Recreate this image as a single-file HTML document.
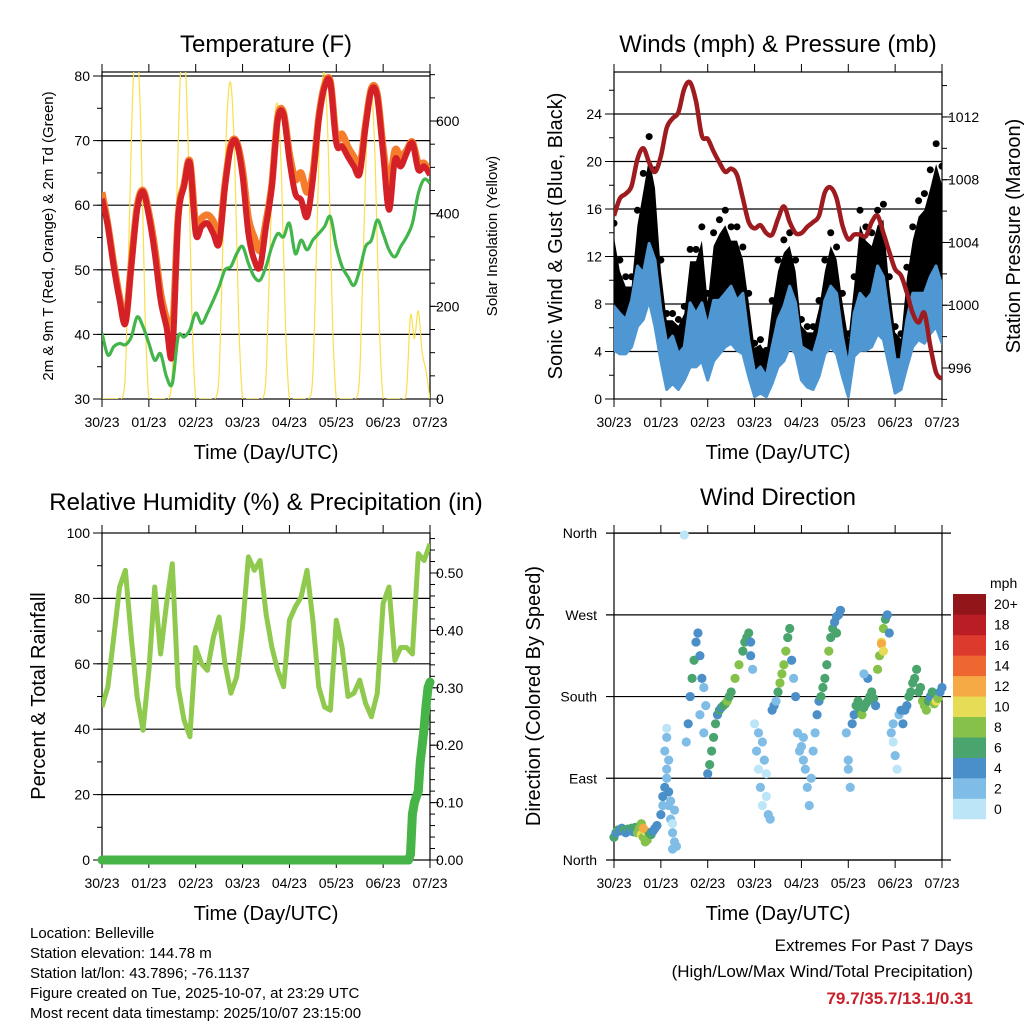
<!DOCTYPE html>
<html><head><meta charset="utf-8">
<style>
html,body{margin:0;padding:0;background:#fff;}
svg{display:block;font-family:"Liberation Sans",Arial,sans-serif;}
</style></head>
<body>
<svg id="root" width="1024" height="1024" viewBox="0 0 1024 1024" xmlns="http://www.w3.org/2000/svg">
<defs>
<clipPath id="c1"><rect x="102" y="72" width="328" height="327"/></clipPath>
<clipPath id="c2"><rect x="614" y="72" width="328" height="327"/></clipPath>
<clipPath id="c3"><rect x="102" y="533" width="328" height="327"/></clipPath>
</defs>
<g id="g"></g>
<g font-size="15" fill="#000">
<text x="30" y="938">Location: Belleville</text>
<text x="30" y="958">Station elevation: 144.78 m</text>
<text x="30" y="978">Station lat/lon: 43.7896; -76.1137</text>
<text x="30" y="998">Figure created on Tue, 2025-10-07, at 23:29 UTC</text>
<text x="30" y="1018">Most recent data timestamp: 2025/10/07 23:15:00</text>
</g>
<g text-anchor="end">
<text x="973" y="951" font-size="17">Extremes For Past 7 Days</text>
<text x="973" y="977" font-size="17">(High/Low/Max Wind/Total Precipitation)</text>
<text x="973" y="1004" font-size="17" font-weight="bold" fill="#c8202a">79.7/35.7/13.1/0.31</text>
</g>
</svg>
<script>
// ---- data (3-hourly, t = 0..168 hours) ----
const hours3 = [0,3,6,9,12,15,18,21,24,27,30,33,36,39,42,45,48,51,54,57,60,63,66,69,72,75,78,81,84,87,90,93,96,99,102,105,108,111,114,117,120,123,126,129,132,135,138,141,144,147,150,153,156,159,162,165,168];
const dayLabels = ["30/23","01/23","02/23","03/23","04/23","05/23","06/23","07/23"];
const tempRed = [61,56.7,50.5,45.3,41.7,50.5,59.3,62.1,58.3,52.6,45.3,41.2,37,57.7,62.9,66.5,55.6,56.7,57.2,55.6,54.1,62.9,69.1,69.6,64.5,55.6,51.5,50.5,56.7,62.9,73.2,74,67,61.8,60.8,58.2,64,73.2,78.3,78.9,69.6,69.1,67.5,66,64.9,72.2,77.8,76.8,68,59.3,67,66,68,69.6,65.5,66,64.7];
const tempOrange = [62,57,51,45.8,42,51,59.8,62.3,58.8,53.5,46.5,42.5,40,58.2,63.2,66.8,57,58,58.5,57.5,55,63.3,69.4,69.8,65.5,58,55,53,57.5,63.3,73.6,74.3,68,64,65,62,65,73.6,78.6,79.1,70.5,71,69,67.5,66,72.6,78.1,77.2,69,63,68.5,67.5,68.5,69.8,66.5,66.5,65];
const dewPoint = [40.2,36.8,38.1,38.6,38.4,39.6,42.7,41.2,38.6,36,37,33.5,32.4,39.6,39.6,40.7,43.3,41.7,43.3,45.3,47.4,50,50.5,52.5,53.6,51,48.9,48.4,50.5,53.6,55.6,55.1,57.2,52.5,54.6,53.1,54.6,55.6,56.7,58.2,53.6,50.5,48.9,47.6,50,53.6,54.6,57.7,55.6,53.1,52,53.6,55.1,57.2,61.8,64,63.4];
const solarHours = [0,2,4,6,8,10,12,14,16,18,20,22,24,26,28,30,32,34,36,38,40,42,44,46,48,50,52,54,56,58,60,62,64,66,68,70,72,74,76,78,80,82,84,86,88,90,92,94,96,98,100,102,104,106,108,110,112,114,116,118,120,122,124,126,128,130,132,134,136,138,140,142,144,146,148,150,152,154,156,158,160,162,164,166,168];
const solar = [0,0,0,0,0,0,60,380,685,760,570,190, 0,0,0,0,0,0,60,380,685,760,570,190, 0,0,0,0,0,0,55,340,610,680,510,170, 0,0,0,0,0,0,50,317,570,634,475,158, 0,0,0,0,0,0,56,350,630,700,525,175, 0,0,0,0,0,0,54,335,604,671,503,168, 0,0,0,0,0,0,20,180,130,190,100,60, 0];
const pressure = [1005.7,1006.8,1007.1,1007.6,1009.3,1010,1009.1,1008.5,1009.5,1011.3,1011.9,1012.3,1013.8,1014.2,1013,1010.8,1010.6,1009.8,1009.1,1008.5,1008.7,1008.3,1006.8,1005.3,1004.9,1005.1,1004.6,1004.5,1005.5,1006.3,1005.3,1004.6,1004.6,1005,1005.3,1005.7,1007.2,1007.5,1006.8,1005.1,1004.2,1004.5,1004.5,1004.4,1005.3,1005.7,1004.6,1003.4,1002.3,1001.9,1000.8,999.5,998.9,999.5,997.4,995.7,995.3];
const gustMax = [14.8,11.7,10.3,10.3,15.9,19,22.1,19.3,11.7,7.2,7.2,6.7,7.8,12.6,12.6,14.5,8.9,14,15.1,15.9,14.5,14.5,12.8,8.9,4.7,5,4.1,8.3,11.7,13.4,14,11.7,6.7,6.1,6.1,8.3,11.7,14,12.8,8.9,5.5,10.3,15.9,14.5,14,15.9,16.4,10.3,6.1,5.5,11.1,14.5,16.7,17.3,19.3,21.5,19.6];
const windMax = [7.8,7.2,6.7,8.3,11.2,10.6,13.1,11.7,7.5,4.7,5.3,3.8,4.4,8.1,7.2,8.1,6.1,8.3,8.3,8.9,9.5,8.3,8.9,5,2.2,2.7,1.9,4.4,6.7,7.8,9.5,8.1,4.4,4.1,3.8,5.5,8.3,9.5,8.9,5.3,2.7,7.2,8.9,8.3,8.9,11.2,10.3,6.7,3.3,3.3,6.7,8.9,8.9,8.9,10.3,11.2,9.5];
const windMin = [4.1,3.8,3.8,4.4,6.1,6.7,8.3,6.1,3.2,0.8,1.3,0.8,1.6,2.7,2.7,3.2,1.6,3.2,3.8,4.4,4.7,4.1,3.8,1.9,0.2,0.5,0.2,1.3,2.7,3.2,4.4,3.8,1.6,1,0.8,1.9,3.8,4.4,3.8,1.9,0.2,3.6,4.1,4.1,4.4,5.5,5,2.7,0.5,0.8,2.7,4.4,5,4.7,5.5,6.1,4.7];
const rh = [46.8,53,68,83.5,88.6,68,50,39.7,58,83.5,63,78,90.6,53,42.8,37.7,65,60,58,68,74.3,60,51,56,71.3,92.7,88.6,91.6,75.4,65,58,53,73.3,77.4,80.4,88.6,73.3,53,46.8,45.8,73.3,65,50,51,55,47.9,43.8,51,78.4,83.5,61,65,65,63,93.7,91.6,96.7];
const precipHours = [0,40,80,120,157,158,159,160,161,162,163,164,165,166,167,168];
const precip = [0,0,0,0,0,0.01,0.08,0.1,0.11,0.12,0.17,0.2,0.23,0.27,0.3,0.31];
const dirHours = [0,1,2,3,4,5,6,7,8,9,10,11,12,13,14,15,16,17,18,19,14,16,15,20,21,22,24,25,25,26,27,27,28,28,29,26,27,27,28,29,30,31,32,30,31,30,36,37,38,39,40,41,42,43,44,45,46,47,46,44,48,49,50,51,52,53,54,55,56,57,58,59,60,62,64,66,67,68,69,70,70,71,72,73,74,75,76,76,77,78,79,80,74,78,81,82,83,84,85,86,87,88,89,90,91,92,93,94,95,96,97,98,99,100,97,101,102,103,104,105,106,107,108,109,110,111,112,113,114,115,116,114,119,120,120,121,122,123,124,125,126,127,128,129,130,131,132,133,134,130,128,135,136,137,138,139,137,140,141,138,142,143,144,145,143,146,147,148,149,150,151,152,153,154,155,156,157,158,159,160,161,162,163,164,165,166,167,168];
const dirDeg = [25,30,33,32,35,33,30,34,32,35,31,36,30,35,28,25,32,22,30,28,40,20,35,32,35,38,50,60,70,80,90,100,110,75,65,120,135,145,60,45,30,20,15,40,55,12,358,130,150,180,200,220,240,250,225,200,190,170,140,160,95,105,120,135,150,160,165,168,170,172,175,180,185,200,215,230,240,245,250,240,225,210,150,120,100,80,60,130,110,70,50,45,140,95,165,170,175,185,195,205,215,230,245,255,220,200,180,140,120,125,110,100,80,60,135,90,120,140,160,175,180,190,200,215,230,245,255,262,268,270,275,250,140,110,100,80,150,160,170,175,165,160,168,172,175,180,185,178,170,200,205,210,225,240,255,265,238,270,250,230,140,130,115,100,150,160,165,150,165,170,180,185,195,200,210,185,190,175,170,165,175,180,185,172,175,178,185,190];
const dirSpeed = [6,5,6,5,4,6,5,6,5,6,5,6,8,9,10,9,11,8,7,6,9,9,12,5,5,4,4,3,4,4,3,2,3,4,3,2,2,1,2,2,2,2,2,1,2,2,1,3,4,5,6,6,5,4,5,4,3,2,2,3,5,6,7,7,6,5,6,5,6,7,8,7,7,8,8,7,6,6,6,5,4,3,1,2,1,2,1,2,2,1,2,2,2,1,4,4,3,6,8,8,9,8,7,7,4,3,4,2,2,3,2,2,2,2,3,2,2,3,4,5,6,7,7,7,8,7,6,4,4,4,4,6,2,2,2,2,4,4,6,6,7,8,6,7,6,6,7,6,5,4,3,8,9,10,9,7,12,5,4,10,2,1,2,1,3,3,4,4,5,5,6,6,6,6,6,7,7,8,8,8,6,5,6,9,10,8,5,4];
const speedLabels = ["0","2","4","6","8","10","12","14","16","18","20+"];
const speedColors = ["#bde5f8","#80bde6","#4a8fc8","#4aa46d","#86c24a","#e6dc56","#f6aa46","#ef6730","#dd3a2e","#bb1d25","#921619"];

// ---- helpers ----
const NS = "http://www.w3.org/2000/svg";
const G = document.getElementById('g');
function mk(tag, attrs, parent){ const e=document.createElementNS(NS,tag); for(const k in attrs) e.setAttribute(k,attrs[k]); (parent||G).appendChild(e); return e; }
function txt(s, attrs, parent){ const e=mk('text',attrs,parent); e.textContent=s; return e; }
function smooth(pts){ let d="M"+pts[0][0].toFixed(1)+","+pts[0][1].toFixed(1); for(let i=0;i<pts.length-1;i++){ const p0=pts[i-1]||pts[i],p1=pts[i],p2=pts[i+1],p3=pts[i+2]||p2; const c1=[p1[0]+(p2[0]-p0[0])/6,p1[1]+(p2[1]-p0[1])/6], c2=[p2[0]-(p3[0]-p1[0])/6,p2[1]-(p3[1]-p1[1])/6]; d+="C"+c1[0].toFixed(1)+","+c1[1].toFixed(1)+" "+c2[0].toFixed(1)+","+c2[1].toFixed(1)+" "+p2[0].toFixed(1)+","+p2[1].toFixed(1);} return d; }
function poly(pts){ return "M"+pts.map(p=>p[0].toFixed(1)+","+p[1].toFixed(1)).join("L"); }
const W=328, H=327;
function xs(x0){ return t=>x0+t*W/168; }

function frame(x0,y0,name,xTitle){
  const f=mk('g',{});
  
  
  mk('rect',{x:x0,y:y0,width:W,height:H,fill:'none',stroke:'#000','stroke-width':1.2},f);
  for(let d=0; d<=7; d++){
    const x=x0+d*W/7;
    mk('line',{x1:x,y1:y0+H,x2:x,y2:y0+H+8,stroke:'#000','stroke-width':1},f);
    mk('line',{x1:x,y1:y0,x2:x,y2:y0-8,stroke:'#000','stroke-width':1},f);
    const t=txt(dayLabels[d],{x:x,y:y0+H+28,'font-size':14,'text-anchor':'middle'},f);
    
    
  }
  const xt=txt(xTitle,{x:x0+W/2,y:y0+H+60,'font-size':20,'text-anchor':'middle'},f);
  
  
  return f;
}
function yTicks(f,x0,y0,side,vals,yfn,fmt,major,minorStep,minV,maxV){
  const xb = side==='l'?x0:x0+W, dir = side==='l'?-1:1;
  for(let v=minV; v<=maxV+1e-9; v+=minorStep){ const y=yfn(v); if(y<y0-0.5) continue; mk('line',{x1:xb,y1:y,x2:xb+dir*5,y2:y,stroke:'#000','stroke-width':1},f); }
  vals.forEach(v=>{ const y=yfn(v); mk('line',{x1:xb,y1:y,x2:xb+dir*9,y2:y,stroke:'#000','stroke-width':1},f);
    const t=txt(fmt(v),{x:xb+dir*(side==='l'?12:6),y:y+5,'font-size':14,'text-anchor':side==='l'?'end':'start'},f);
    
     });
}
function title(s,x,y,name){ const t=txt(s,{x:x,y:y,'font-size':24,'text-anchor':'middle'});   }
function vtitle(s,x,y,size,name){ const t=txt(s,{x:0,y:0,'font-size':size,'text-anchor':'middle',transform:`translate(${x},${y}) rotate(-90)`});   }

// ===== Panel 1: Temperature =====
(function(){
  const x0=102,y0=72, X=xs(x0);
  const yT=v=>399-(v-30)*6.46, yS=v=>399-v*0.4633;
  title("Temperature (F)",266,52,'temperature-title');
  const f=frame(x0,y0,'temperature',"Time (Day/UTC)");
  [40,50,60,70,80].forEach(v=>{ const l=mk('line',{x1:x0,y1:yT(v),x2:x0+W,y2:yT(v),stroke:'#000','stroke-width':1.2});   });
  const c=mk('g',{'clip-path':'url(#c1)'});
  
  
  const s=mk('path',{d:smooth(solarHours.map((t,i)=>[X(t),yS(solar[i])])),fill:'none',stroke:'#f9df4a','stroke-width':1.2},c);
  
  
  const o=mk('path',{d:smooth(hours3.map((t,i)=>[X(t),yT(tempOrange[i])])),fill:'none',stroke:'#f47c2b','stroke-width':7,'stroke-linejoin':'round'},c);
  
  
  const r=mk('path',{d:smooth(hours3.map((t,i)=>[X(t),yT(tempRed[i])])),fill:'none',stroke:'#d42027','stroke-width':6,'stroke-linejoin':'round'},c);
  
  
  const g=mk('path',{d:smooth(hours3.map((t,i)=>[X(t),yT(dewPoint[i])])),fill:'none',stroke:'#42b54b','stroke-width':3.2},c);
  
  
  yTicks(f,x0,y0,'l',[30,40,50,60,70,80],yT,v=>String(v),1,5,30,80);
  yTicks(f,x0,y0,'r',[0,200,400,600],yS,v=>String(v),1,50,0,700);
  vtitle("2m & 9m T (Red, Orange) & 2m Td (Green)",53,236,15,'temp-y-axis-title');
  vtitle("Solar Insolation (Yellow)",497,236,15,'solar-y-axis-title');
})();

// ===== Panel 2: Winds & Pressure =====
(function(){
  const x0=614,y0=72, X=xs(x0);
  const yW=v=>399-v*11.875, yP=p=>368-(p-996)*15.69;
  title("Winds (mph) & Pressure (mb)",778,52,'winds-title');
  const f=frame(x0,y0,'winds',"Time (Day/UTC)");
  [4,8,12,16,20,24].forEach(v=>{ const l=mk('line',{x1:x0,y1:yW(v),x2:x0+W,y2:yW(v),stroke:'#000','stroke-width':1.2});   });
  const c=mk('g',{'clip-path':'url(#c2)'});
  
  
  const up=hours3.map((t,i)=>[X(t),yW(gustMax[i]*0.92)]), lo=hours3.map((t,i)=>[X(t),yW(windMax[i])]).reverse();
  const gb=mk('path',{d:poly(up.concat(lo))+"Z",fill:'#000',stroke:'none'},c);
  
  
  hours3.forEach((t,i)=>{ const d=mk('circle',{cx:X(t),cy:yW(gustMax[i]),r:3.5,fill:'#000'},c);   });
  const wu=hours3.map((t,i)=>[X(t),yW(windMax[i])]), wl=hours3.map((t,i)=>[X(t),yW(windMin[i])]).reverse();
  const wb=mk('path',{d:poly(wu.concat(wl))+"Z",fill:'#4f97d2',stroke:'#4f97d2','stroke-width':3,'stroke-linejoin':'round'},c);
  
  
  const p=mk('path',{d:smooth(hours3.map((t,i)=>[X(t),yP(pressure[i])])),fill:'none',stroke:'#9e1b1f','stroke-width':4.5},c);
  
  
  yTicks(f,x0,y0,'l',[0,4,8,12,16,20,24],yW,v=>String(v),1,2,0,27);
  yTicks(f,x0,y0,'r',[996,1000,1004,1008,1012],yP,v=>String(v),1,2,994,1014);
  vtitle("Sonic Wind & Gust (Blue, Black)",562,236,20,'wind-y-axis-title');
  vtitle("Station Pressure (Maroon)",1020,236,20,'pressure-y-axis-title');
})();

// ===== Panel 3: RH & Precip =====
(function(){
  const x0=102,y0=533, X=xs(x0);
  const yR=v=>860-v*3.27, yPr=v=>860-v*574;
  title("Relative Humidity (%) & Precipitation (in)",266,510,'humidity-title');
  const f=frame(x0,y0,'humidity',"Time (Day/UTC)");
  [20,40,60,80].forEach(v=>{ const l=mk('line',{x1:x0,y1:yR(v),x2:x0+W,y2:yR(v),stroke:'#000','stroke-width':1.2});   });
  const c=mk('g',{'clip-path':'url(#c3)'});
  
  
  const l=mk('path',{d:poly(hours3.map((t,i)=>[X(t),yR(rh[i])])),fill:'none',stroke:'#8fc94e','stroke-width':5,'stroke-linejoin':'round'},c);
  
  
  const pr=mk('path',{d:poly(precipHours.map((t,i)=>[X(t),yPr(precip[i])])),fill:'none',stroke:'#46b446','stroke-width':9,'stroke-linecap':'round','stroke-linejoin':'round'});
  
  
  yTicks(f,x0,y0,'l',[0,20,40,60,80,100],yR,v=>String(v),1,10,0,100);
  yTicks(f,x0,y0,'r',[0,0.1,0.2,0.3,0.4,0.5],yPr,v=>v.toFixed(2),1,0.02,0,0.56);
  vtitle("Percent & Total Rainfall",45,696,20,'rh-y-axis-title');
})();

// ===== Panel 4: Wind Direction =====
(function(){
  const x0=614,y0=533, X=xs(x0);
  const yD=d=>860-d*0.908;
  title("Wind Direction",778,505,'wind-direction-title');
  const f=frame(x0,y0,'wind-direction',"Time (Day/UTC)");
  const dirNames=["North","East","South","West","North"];
  dirNames.forEach((n,i)=>{ const y=yD(i*90);
    const l=mk('line',{x1:x0-8,y1:y,x2:951,y2:y,stroke:'#000','stroke-width':1.2},f);  
    const t=txt(n,{x:597,y:y+5,'font-size':14,'text-anchor':'end'},f);   });
  dirHours.forEach((t,i)=>{ const b=Math.min(10,Math.floor(dirSpeed[i]/2));
    const d=mk('circle',{cx:X(t),cy:yD(dirDeg[i]),r:4.6,fill:speedColors[b]});
    
     });
  vtitle("Direction (Colored By Speed)",540,696,20,'direction-y-axis-title');
  const lg=mk('g',{});
  
  
  const ml=txt("mph",{x:990,y:588,'font-size':14},lg);
  
  
  const bh=225/11;
  speedLabels.forEach((s,i)=>{ const y=819-(i+1)*bh;
    const r=mk('rect',{x:953,y:y,width:33,height:bh+0.3,fill:speedColors[i]},lg);
    
    
    const t=txt(s,{x:994,y:y+bh/2+5,'font-size':14},lg);
    
     });
})();
</script>
</body></html>
